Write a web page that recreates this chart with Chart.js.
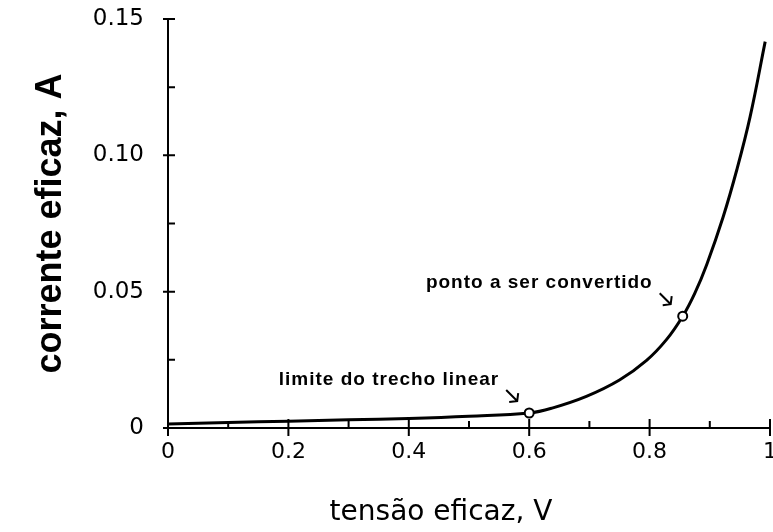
<!DOCTYPE html>
<html>
<head>
<meta charset="utf-8">
<script src="https://cdn.jsdelivr.net/npm/chart.js@4/dist/chart.umd.min.js"></script>
<style>
  html, body { margin: 0; padding: 0; background: #fff; overflow: hidden; }
  #wrap { width: 800px; height: 532px; }
</style>
</head>
<body>
<div id="wrap"><canvas id="chart" width="800" height="532"></canvas></div>
<script>
// curva I x V
const tensao = [0, 0.1, 0.2, 0.3, 0.4, 0.5, 0.6, 0.638, 0.695, 0.75, 0.795, 0.828, 0.855, 0.875, 0.895, 0.922, 0.945, 0.967, 0.992];
const corrente = [0.0015, 0.002, 0.0025, 0.003, 0.0035, 0.0043, 0.0055, 0.0073, 0.0116, 0.0176, 0.0248, 0.0324, 0.041, 0.0494, 0.060, 0.0773, 0.0948, 0.1142, 0.1417];

// pontos marcados
const marcaX = [0.6, 0.855];
const marcaY = [0.0055, 0.041];
const marcaTexto = ["limite do trecho linear", "ponto a ser convertido"];

// eixos
const xMajor = [0, 0.2, 0.4, 0.6, 0.8, 1];
const xMinor = [0.1, 0.3, 0.5, 0.7, 0.9];
const xLabels = ["0", "0.2", "0.4", "0.6", "0.8", "1"];
const yMajor = [0, 0.05, 0.1, 0.15];
const yMinor = [0.025, 0.075, 0.125];
const yLabels = ["0", "0.05", "0.10", "0.15"];

const FONT = '"Liberation Sans", Arial, Helvetica, sans-serif';
const TICKFONT = '"DejaVu Sans", sans-serif';
Chart.defaults.font.family = FONT;
Chart.defaults.color = "#000";

function arrow(ctx, x1, y1, x2, y2) {
  ctx.beginPath();
  ctx.moveTo(x1, y1);
  ctx.lineTo(x2, y2);
  ctx.moveTo(x2 - 8, y2 + 1);
  ctx.lineTo(x2, y2);
  ctx.lineTo(x2 + 1, y2 - 8);
  ctx.stroke();
}

// marcas dos eixos, anotacoes e titulo do eixo x
const decor = {
  id: "decor",
  afterDraw(chart) {
    const { ctx, scales: { x, y } } = chart;
    const x0 = x.getPixelForValue(0);
    const y0 = y.getPixelForValue(0);
    ctx.save();
    ctx.strokeStyle = "#000";
    ctx.lineWidth = 2;
    ctx.beginPath();
    xMajor.forEach(v => {
      const px = x.getPixelForValue(v);
      ctx.moveTo(px, y0 - 9);
      ctx.lineTo(px, y0 + 8);
    });
    xMinor.forEach(v => {
      const px = x.getPixelForValue(v);
      ctx.moveTo(px, y0 - 7);
      ctx.lineTo(px, y0);
    });
    yMajor.forEach(v => {
      const py = y.getPixelForValue(v);
      ctx.moveTo(x0 - 5, py);
      ctx.lineTo(x0 + 7, py);
    });
    yMinor.forEach(v => {
      const py = y.getPixelForValue(v);
      ctx.moveTo(x0, py);
      ctx.lineTo(x0 + 7, py);
    });
    ctx.stroke();

    ctx.fillStyle = "#000";
    ctx.font = "bold 19px " + FONT;
    ctx.letterSpacing = "1px";
    ctx.textAlign = "right";
    ctx.textBaseline = "middle";
    marcaX.forEach((v, i) => {
      const px = x.getPixelForValue(v);
      const py = y.getPixelForValue(marcaY[i]);
      ctx.fillText(marcaTexto[i], px - 30, py - 33);
      arrow(ctx, px - 23, py - 23, px - 12, py - 12);
    });

    ctx.letterSpacing = "0px";
    ctx.font = "28px " + TICKFONT;
    ctx.textAlign = "center";
    ctx.fillText("tensão eficaz, V", 441, 513);
    ctx.restore();
  }
};

new Chart(document.getElementById("chart"), {
  type: "line",
  data: {
    datasets: [
      {
        type: "scatter",
        data: marcaX.map((v, i) => ({ x: v, y: marcaY[i] })),
        pointRadius: 4.5,
        pointBackgroundColor: "#fff",
        pointBorderColor: "#000",
        pointBorderWidth: 2,
        showLine: false,
        clip: false
      },
      {
        data: tensao.map((v, i) => ({ x: v, y: corrente[i] })),
        borderColor: "#000",
        borderWidth: 3,
        pointRadius: 0,
        tension: 0.4,
        fill: false,
        clip: false
      }
    ]
  },
  options: {
    responsive: false,
    animation: false,
    events: [],
    layout: { padding: { left: 0, right: 30, top: 19, bottom: 0 } },
    plugins: { legend: { display: false }, tooltip: { enabled: false } },
    scales: {
      x: {
        type: "linear",
        min: 0,
        max: 1,
        afterBuildTicks: s => { s.ticks = xMajor.map(v => ({ value: v })); },
        afterFit: s => { s.height = 104; },
        grid: { display: false, drawTicks: false },
        border: { display: true, color: "#000", width: 2 },
        ticks: {
          padding: 11,
          maxRotation: 0,
          font: { size: 22, family: TICKFONT },
          callback: (v, i) => xLabels[i]
        }
      },
      y: {
        type: "linear",
        min: 0,
        max: 0.15,
        afterBuildTicks: s => { s.ticks = yMajor.map(v => ({ value: v })); },
        afterFit: s => { s.width = 168; s.paddingTop = 0; s.paddingBottom = 0; },
        grid: { display: false, drawTicks: false },
        border: { display: true, color: "#000", width: 2 },
        ticks: {
          padding: 24,
          font: { size: 23, family: TICKFONT },
          callback: (v, i) => yLabels[i]
        },
        title: {
          display: true,
          text: "corrente eficaz, A",
          font: { size: 36, weight: "bold" },
          padding: { top: 29, bottom: 0 }
        }
      }
    }
  },
  plugins: [decor]
});
</script>
</body>
</html>
